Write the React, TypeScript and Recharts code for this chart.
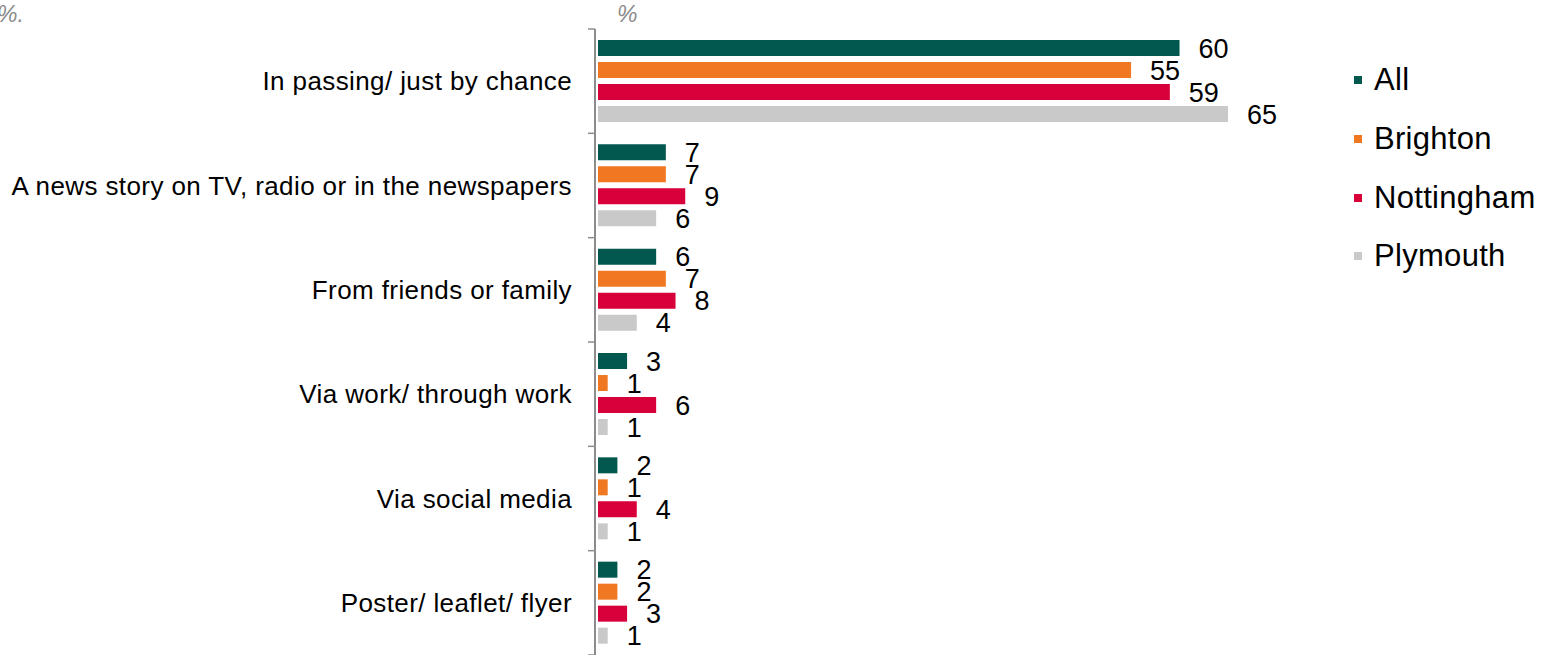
import React from "react"
import { Bar, BarChart, LabelList, Legend, XAxis, YAxis } from "recharts"

const categories = [
  "In passing/ just by chance",
  "A news story on TV, radio or in the newspapers",
  "From friends or family",
  "Via work/ through work",
  "Via social media",
  "Poster/ leaflet/ flyer",
]
const allValues = [60, 7, 6, 3, 2, 2]
const brightonValues = [55, 7, 7, 1, 1, 2]
const nottinghamValues = [59, 9, 8, 6, 4, 3]
const plymouthValues = [65, 6, 4, 1, 1, 1]

const series = [
  { key: "All", color: "#02584E" },
  { key: "Brighton", color: "#F07822" },
  { key: "Nottingham", color: "#D8003A" },
  { key: "Plymouth", color: "#C9C9C9" },
]

const data = categories.map((name, i) => ({
  name,
  All: allValues[i],
  Brighton: brightonValues[i],
  Nottingham: nottinghamValues[i],
  Plymouth: plymouthValues[i],
}))

const FONT = "Arial, 'Liberation Sans', sans-serif"
const W = 1547
const H = 655
const TOP = 29
const BAND = (H - TOP) / categories.length
const AXIS_GREY = "#8C8C8C"

// label + boundary tick + this band's piece of the axis line (axis sits 3px left of the bars)
function CategoryTick(props: any) {
  const { x, y, payload, index } = props
  const ax = x + 23
  return (
    <g>
      <line x1={ax} x2={ax} y1={y - BAND / 2} y2={y + BAND / 2} stroke={AXIS_GREY} strokeWidth={2} />
      <line x1={ax - 7} x2={ax} y1={y - BAND / 2} y2={y - BAND / 2} stroke={AXIS_GREY} strokeWidth={1.5} />
      {index === categories.length - 1 && (
        <line x1={ax - 7} x2={ax} y1={y + BAND / 2} y2={y + BAND / 2} stroke={AXIS_GREY} strokeWidth={1.5} />
      )}
      <text x={x} y={y} dy="0.35em" textAnchor="end" fontSize={26} letterSpacing={0.4} fill="#000" fontFamily={FONT}>
        {payload.value}
      </text>
    </g>
  )
}

function LegendBox() {
  return (
    <div style={{ fontFamily: FONT }}>
      {series.map((s) => (
        <div key={s.key} style={{ display: "flex", alignItems: "center", height: 58.7 }}>
          <span style={{ width: 8, height: 8, background: s.color, marginRight: 12, display: "inline-block" }} />
          <span style={{ fontSize: 31, color: "#000", letterSpacing: 0.3 }}>{s.key}</span>
        </div>
      ))}
    </div>
  )
}

export default function App() {
  return (
    <div style={{ position: "absolute", left: 0, top: 0, width: W, height: H, background: "#fff", fontFamily: FONT }}>
      <BarChart
        width={W}
        height={H}
        data={data}
        layout="vertical"
        margin={{ top: TOP, right: 319, bottom: 0, left: 0 }}
        barSize={16}
        barGap={6}
      >
        <XAxis type="number" domain={[0, 65]} hide />
        <YAxis
          type="category"
          dataKey="name"
          width={598}
          axisLine={false}
          tickLine={false}
          tickSize={0}
          tickMargin={26}
          tick={<CategoryTick />}
          interval={0}
        />
        <Legend
          layout="vertical"
          align="center"
          verticalAlign="middle"
          wrapperStyle={{ position: "absolute", left: 1354, top: 51, width: 200 }}
          content={() => <LegendBox />}
        />
        {series.map((s) => (
          <Bar key={s.key} dataKey={s.key} fill={s.color} isAnimationActive={false}>
            <LabelList dataKey={s.key} position="right" offset={19} fontSize={27} fill="#000" fontFamily={FONT} />
          </Bar>
        ))}
      </BarChart>
      <div style={{ position: "absolute", left: -3, top: 1, fontSize: 23, fontStyle: "italic", color: "#8a8a8a" }}>%.</div>
      <div style={{ position: "absolute", left: 617, top: 1, fontSize: 23, fontStyle: "italic", color: "#8a8a8a" }}>%</div>
    </div>
  )
}
